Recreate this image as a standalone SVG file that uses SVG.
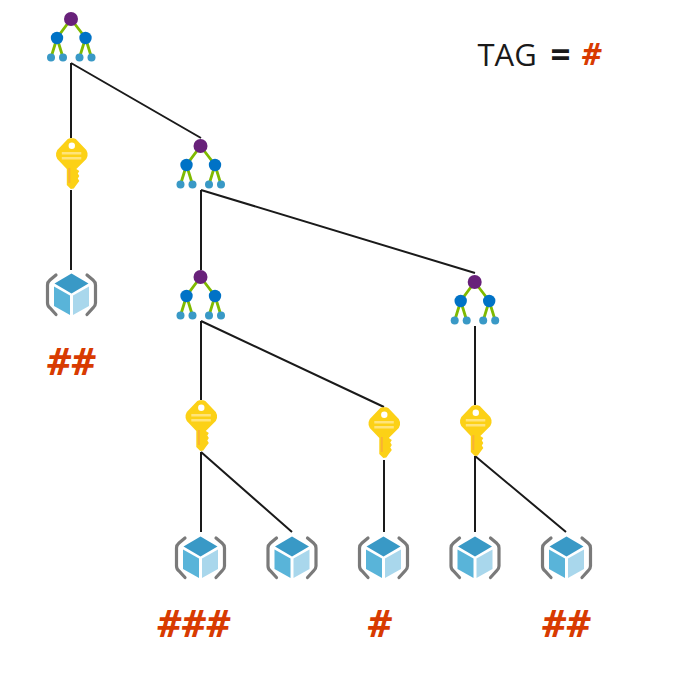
<svg xmlns="http://www.w3.org/2000/svg" width="676" height="674" viewBox="0 0 676 674">
<style>
.c{stroke:#1a1a1a;stroke-width:2;fill:none}
.h{font-family:"Open Sans","Noto Sans",sans-serif;font-weight:700;font-style:italic;fill:#d83b01;font-size:38px;text-anchor:middle}
.g{stroke:#7fba00;stroke-width:2.8;fill:none}
.t{font-family:"Open Sans","Noto Sans",sans-serif;font-size:31px;fill:#1a1a1a}
.b{stroke:#7a7a7a;stroke-width:3.200;fill:none;stroke-linecap:round}
</style>
<defs>
<g id="tree">
<path class="g" d="M0 0L-14 19L-20 38.500M-14 19L-8 38.500M0 0L14.500 19L8.500 38.500M14.500 19L20.500 38.500"/>
<circle cx="0" cy="0" r="7" fill="#68217a"/>
<circle cx="-14" cy="19" r="6.200" fill="#0072c6"/>
<circle cx="14.500" cy="19" r="6.200" fill="#0072c6"/>
<circle cx="-20" cy="38.500" r="4" fill="#3999c6"/>
<circle cx="-8" cy="38.500" r="4" fill="#3999c6"/>
<circle cx="8.500" cy="38.500" r="4" fill="#3999c6"/>
<circle cx="20.500" cy="38.500" r="4" fill="#3999c6"/>
</g>
<g id="key">
<path d="M-2 0.300L2 0.300L4 1L14.500 12L15.700 15L15.700 18L14.500 21L4.500 31L7.500 33L6 35.500L7.500 38L6 40.500L7.500 43L4.500 47L2 50.500L-1 51L-5 47L-5 31L-14.500 21L-15.700 18L-15.700 15L-14.500 12L-4 1Z" fill="#fcd116"/>
<circle cx="0" cy="7.700" r="3.200" fill="#fff"/>
<path d="M-10 15.300H9.500M-10 20.300H9.500" stroke="#ffe47a" stroke-width="2.500" fill="none"/>
<path d="M-2.500 30V45" stroke="#f9b233" stroke-width="2" fill="none"/>
</g>
<g id="cube">
<path class="b" d="M-15.500 -20L-21.500 -15Q-24 -13 -24 -10V8Q-24 11 -21.500 13L-15.500 19.500"/>
<path class="b" d="M15.500 -20L21.500 -15Q24 -13 24 -10V8Q24 11 21.500 13L15.500 19.500"/>
<path d="M0 -21.500L17 -11.500L0 -1.500L-17 -11.500Z" fill="#3999c6"/>
<path d="M-17.500 -8.500L-1.500 0.500V20L-17.500 11Z" fill="#59b4d9"/>
<path d="M17.500 -8.500L1.500 0.500V20L17.500 11Z" fill="#a9d7ec"/>
</g>
</defs>
<g id="connectors">
<path class="c" d="M71 63V138M71 63L201 138M71 190V270M201 190V270M201 190L475 273M201 321V400M201 321L384 407M384 460V532M475 326V405M201 452V532M201 452L292 532M475 456V532M475 456L566 532"/>
</g>
<g id="tree1"><use href="#tree" x="71" y="19"/></g>
<g id="tree2"><use href="#tree" x="200.500" y="146"/></g>
<g id="tree3"><use href="#tree" x="200.500" y="277"/></g>
<g id="tree4"><use href="#tree" x="474.700" y="282"/></g>
<g id="key1"><use href="#key" x="71.800" y="138"/></g>
<g id="key2"><use href="#key" x="201.300" y="400"/></g>
<g id="key3"><use href="#key" x="384.300" y="407"/></g>
<g id="key4"><use href="#key" x="475.800" y="405"/></g>
<g id="cube1"><use href="#cube" x="71.500" y="295"/></g>
<g id="cube2"><use href="#cube" x="200.500" y="558"/></g>
<g id="cube3"><use href="#cube" x="292" y="558"/></g>
<g id="cube4"><use href="#cube" x="383.500" y="558"/></g>
<g id="cube5"><use href="#cube" x="475" y="558"/></g>
<g id="cube6"><use href="#cube" x="566.500" y="558"/></g>
<g id="labels">
<text class="h" x="71" y="374.500">##</text>
<text class="h" x="193.500" y="636.500">###</text>
<text class="h" x="379.500" y="636.500">#</text>
<text class="h" x="566" y="636.500">##</text>
<text class="t" x="477.500" y="66">TAG</text>
<text class="t" x="560.500" y="67" style="font-weight:700;font-size:35px;text-anchor:middle">=</text>
<text class="t" x="591.500" y="65" style="font-weight:700;font-style:italic;fill:#d83b01;text-anchor:middle">#</text>
</g>
</svg>
